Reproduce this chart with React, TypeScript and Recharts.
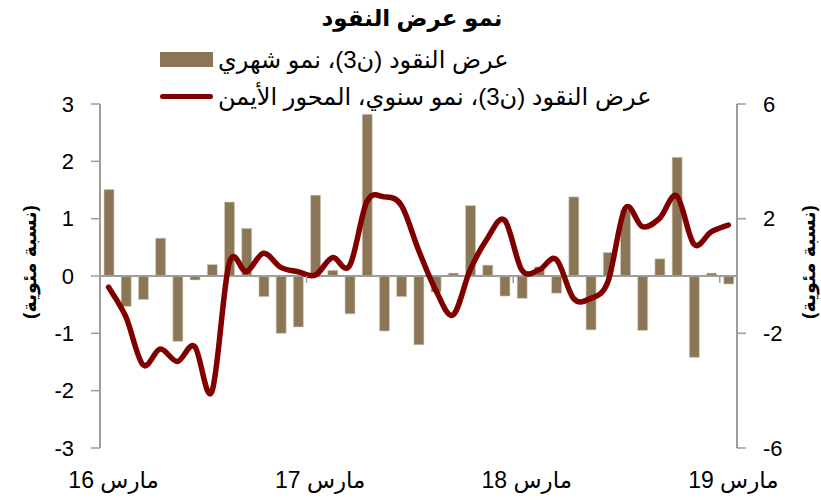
import React from 'react';
import { ComposedChart, Bar, Line, XAxis, YAxis, ReferenceLine } from 'recharts';

// categories: March 2016 .. March 2019
const monthNames = ['مارس', 'أبريل', 'مايو', 'يونيو', 'يوليو', 'أغسطس', 'سبتمبر', 'أكتوبر', 'نوفمبر', 'ديسمبر', 'يناير', 'فبراير'];
const years = ['16', '17', '18', '19'];

// M3, month-on-month growth (left axis, %)
const monthly = [
  1.51, -0.53, -0.41, 0.66, -1.14, -0.07, 0.2, 1.29, 0.83, -0.36, -1.0, -0.89,
  1.41, 0.1, -0.66, 2.82, -0.96, -0.36, -1.2, -0.28, 0.05, 1.23, 0.19, -0.35,
  -0.39, 0.16, -0.3, 1.38, -0.94, 0.41, 1.15, -0.95, 0.3, 2.07, -1.42, 0.05, -0.14,
];

// M3, year-on-year growth (right axis, %)
const annual = [
  -0.39, -1.42, -3.1, -2.55, -2.98, -2.46, -4.03, 0.44, 0.15, 0.79, 0.3, 0.15,
  0.03, 0.64, 0.36, 2.59, 2.76, 2.47, 0.91, -0.49, -1.36, 0.21, 1.31, 1.95,
  0.21, 0.21, 0.58, -0.78, -0.78, -0.2, 2.36, 1.72, 2.01, 2.79, 1.11, 1.54, 1.78,
];

const leftTicks = [-3, -2, -1, 0, 1, 2, 3];
const rightTicks = [-6, -2, 2, 6];

const TITLE = 'نمو عرض النقود';
const BAR_NAME = 'عرض النقود (ن3)، نمو شهري';
const LINE_NAME = 'عرض النقود (ن3)، نمو سنوي، المحور الأيمن';
const AXIS_NAME = '(نسبة مئوية)';

const categories = monthly.map((_, i) => {
  const yearIdx = Math.floor((i + 2) / 12);
  return `${monthNames[i % 12]} ${years[yearIdx]}`;
});

const data = categories.map((month, i) => ({ month, monthly: monthly[i], annual: annual[i] }));

const FONT = '"Liberation Sans", Arial, "DejaVu Sans", sans-serif';
const GRAY = '#9d9d9d';
const BAR_COLOR = '#8b7656';
const LINE_COLOR = '#800000';

const W = 821;
const H = 503;
const PLOT_LEFT = 100;
const PLOT_RIGHT = 737;
const PLOT_TOP = 104;
const PLOT_BOTTOM = 448;
const BAND = (PLOT_RIGHT - PLOT_LEFT) / data.length;
const ZERO_Y = (PLOT_TOP + PLOT_BOTTOM) / 2;

// Excel-like smoothed line (Catmull-Rom through every point)
const smoothCurve = (context: any) => {
  let pts: number[][] = [];
  return {
    areaStart() {},
    areaEnd() {},
    lineStart() {
      pts = [];
    },
    point(x: number, y: number) {
      pts.push([+x, +y]);
    },
    lineEnd() {
      if (!pts.length) return;
      context.moveTo(pts[0][0], pts[0][1]);
      for (let i = 0; i < pts.length - 1; i++) {
        const p0 = pts[i - 1] || pts[i];
        const p1 = pts[i];
        const p2 = pts[i + 1];
        const p3 = pts[i + 2] || p2;
        context.bezierCurveTo(
          p1[0] + (p2[0] - p0[0]) / 6,
          p1[1] + (p2[1] - p0[1]) / 6,
          p2[0] - (p3[0] - p1[0]) / 6,
          p2[1] - (p3[1] - p1[1]) / 6,
          p2[0],
          p2[1]
        );
      }
    },
  };
};

const XTick = (props: any) => {
  const { x, y, payload, index } = props;
  return (
    <g>
      {index > 0 && (
        <line x1={x - BAND / 2} x2={x - BAND / 2} y1={ZERO_Y} y2={ZERO_Y + 7} stroke={GRAY} strokeWidth={1.5} />
      )}
      <text x={x + 5} y={y + 40} textAnchor="middle" fontSize={23} fill="#000" fontFamily={FONT}>
        {payload.value}
      </text>
    </g>
  );
};

const AxisLabel = ({ viewBox, dx }: any) => {
  const cx = viewBox.x + dx;
  const cy = viewBox.y + viewBox.height / 2 - 14;
  return (
    <text
      x={cx}
      y={cy}
      transform={`rotate(-90, ${cx}, ${cy})`}
      textAnchor="middle"
      dominantBaseline="central"
      fontSize={19}
      fontWeight="bold"
      fontFamily={FONT}
      fill="#000"
    >
      {AXIS_NAME}
    </text>
  );
};

const LegendBox = () => (
  <div
    style={{
      position: 'absolute',
      top: 41,
      left: 160,
      fontFamily: FONT,
      fontSize: 24,
      color: '#000',
      lineHeight: '37px',
      whiteSpace: 'nowrap',
    }}
  >
    <div style={{ display: 'flex', alignItems: 'center', height: 37 }}>
      <span style={{ display: 'inline-block', width: 53, height: 15, background: BAR_COLOR, marginRight: 5 }} />
      <span>{BAR_NAME}</span>
    </div>
    <div style={{ display: 'flex', alignItems: 'center', height: 37 }}>
      <span style={{ display: 'inline-block', width: 53, height: 5, borderRadius: 3, background: LINE_COLOR, marginRight: 5 }} />
      <span>{LINE_NAME}</span>
    </div>
  </div>
);

export default function App() {
  return (
    <div style={{ position: 'absolute', left: 0, top: 0, width: W, height: H, background: '#fff' }}>
      <div
        style={{
          position: 'absolute',
          top: 5,
          left: 0,
          width: 824,
          textAlign: 'center',
          fontFamily: FONT,
          fontWeight: 'bold',
          fontSize: 23,
        }}
      >
        {TITLE}
      </div>
      <LegendBox />
      <ComposedChart
        width={W}
        height={H}
        data={data}
        barSize={10}
        margin={{ top: PLOT_TOP, right: 0, bottom: 0, left: 0 }}
      >
        <XAxis
          dataKey="month"
          interval={11}
          tickLine={false}
          axisLine={false}
          tickSize={0}
          tickMargin={0}
          height={H - PLOT_BOTTOM}
          tick={<XTick />}
        />
        <YAxis
          yAxisId="left"
          orientation="left"
          width={PLOT_LEFT}
          domain={[-3, 3]}
          ticks={leftTicks}
          interval={0}
          tickSize={9}
          tickMargin={17}
          axisLine={{ stroke: GRAY, strokeWidth: 2 }}
          tickLine={{ stroke: GRAY, strokeWidth: 1.5 }}
          tick={{ fill: '#000', fontSize: 22, fontFamily: FONT }}
          label={<AxisLabel dx={29} />}
        />
        <YAxis
          yAxisId="right"
          orientation="right"
          width={W - PLOT_RIGHT}
          domain={[-6, 6]}
          ticks={rightTicks}
          interval={0}
          tickSize={9}
          tickMargin={17}
          axisLine={{ stroke: GRAY, strokeWidth: 2 }}
          tickLine={{ stroke: GRAY, strokeWidth: 1.5 }}
          tick={{ fill: '#000', fontSize: 22, fontFamily: FONT }}
          label={<AxisLabel dx={71} />}
        />
        <Bar yAxisId="left" dataKey="monthly" fill={BAR_COLOR} stroke="#d9cfc0" strokeWidth={0.6} isAnimationActive={false} />
        <ReferenceLine yAxisId="left" y={0} stroke={GRAY} strokeWidth={2} />
        <Line
          yAxisId="right"
          dataKey="annual"
          type={smoothCurve as any}
          stroke={LINE_COLOR}
          strokeWidth={5.5}
          dot={false}
          activeDot={false}
          strokeLinecap="round"
          isAnimationActive={false}
        />
      </ComposedChart>
    </div>
  );
}
